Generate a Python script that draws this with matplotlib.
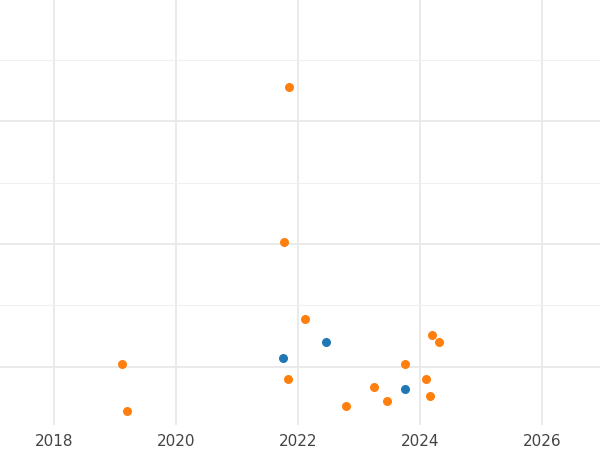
import matplotlib.pyplot as plt
from matplotlib.ticker import MultipleLocator, NullFormatter

# orange series
orange_x = [2021.85, 2021.77, 2022.11, 2024.20, 2024.31, 2019.11, 2023.75,
            2021.84, 2024.10, 2023.25, 2023.46, 2024.16, 2022.79, 2019.20]
orange_y = [3.28, 2.02, 1.39, 1.26, 1.20, 1.02, 1.02,
            0.90, 0.90, 0.84, 0.72, 0.76, 0.68, 0.64]
# blue series
blue_x = [2021.75, 2022.46, 2023.75]
blue_y = [1.07, 1.20, 0.82]

fig, ax = plt.subplots(figsize=(6, 4.5), dpi=100)
fig.subplots_adjust(left=0, right=1, top=1, bottom=0.055)

ax.scatter(blue_x, blue_y, s=30, color='#1f77b4', zorder=3)
ax.scatter(orange_x, orange_y, s=30, color='#ff7f0e', zorder=3)

ax.set_xlim(2017.11, 2026.95)
ax.set_ylim(0.525, 3.985)
ax.xaxis.set_major_locator(MultipleLocator(2))
ax.yaxis.set_major_locator(MultipleLocator(1))
ax.yaxis.set_minor_locator(MultipleLocator(0.5))
ax.yaxis.set_major_formatter(NullFormatter())
ax.grid(which='major', color='#e8e8e8', linewidth=1.3)
ax.grid(which='minor', axis='y', color='#f0f0f0', linewidth=0.8)
ax.set_axisbelow(True)
for s in ax.spines.values():
    s.set_visible(False)
ax.tick_params(axis='both', which='both', length=0, labelsize=11,
               labelcolor='#444444', pad=6)

plt.savefig('out.png')
